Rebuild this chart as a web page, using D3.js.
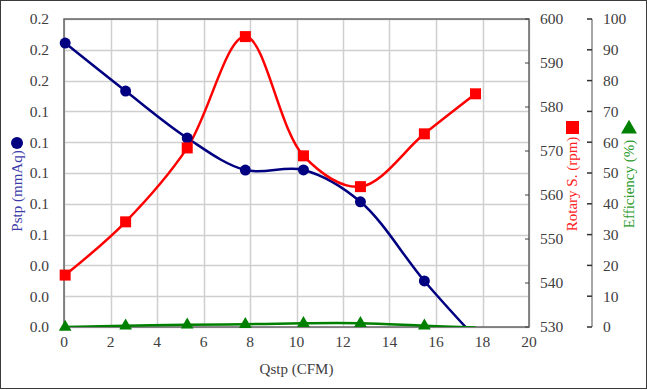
<!DOCTYPE html>
<html>
<head>
<meta charset="utf-8">
<script src="https://cdn.jsdelivr.net/npm/d3@7"></script>
<style>
  body { margin: 0; background: #fff; }
  svg { display: block; }
  svg text { font-family: "Liberation Serif", "Times New Roman", "DejaVu Serif", serif; }
</style>
</head>
<body>
<div id="chart"></div>
<script>
// Qstp (CFM) of each measured point
const qstp = [0.05, 2.65, 5.3, 7.8, 10.3, 12.75, 15.5, 17.7];
const pstp = [0.1844, 0.1532, 0.1227, 0.1019, 0.102, 0.0813, 0.0299, -0.007];
const rotary = [541.8, 553.9, 570.7, 596.0, 568.9, 561.9, 573.9, 583.0];
const efficiency = [0.0, 0.4, 0.7, 0.9, 1.2, 1.2, 0.4, -0.2];

const xTicks = d3.range(0, 21, 2);
const pTicks = d3.range(0, 0.2001, 0.02);
const rTicks = d3.range(530, 601, 10);
const eTicks = d3.range(0, 101, 10);

const width = 647, height = 390;
const plotLeft = 64, plotRight = 529, plotTop = 19, plotBottom = 327;

const svg = d3.select('#chart').append('svg')
  .attr('width', width)
  .attr('height', height);

svg.append('rect')
  .attr('x', 0.5).attr('y', 0.5)
  .attr('width', width - 1).attr('height', height - 2)
  .attr('fill', '#fff')
  .attr('stroke', '#3a3a3a');

const x = d3.scaleLinear().domain([0, 20]).range([plotLeft, plotRight]);
const yP = d3.scaleLinear().domain([0, 0.2]).range([plotBottom, plotTop]);
const yR = d3.scaleLinear().domain([530, 600]).range([plotBottom, plotTop]);
const yE = d3.scaleLinear().domain([0, 100]).range([plotBottom, plotTop]);

const tickColor = '#404040';
const fontSize = 15.5;
const titleSize = 15;

// gridlines
svg.append('g')
  .selectAll('line')
  .data(pTicks)
  .join('line')
  .attr('x1', plotLeft).attr('x2', plotRight)
  .attr('y1', d => Math.round(yP(d)) + 0.5)
  .attr('y2', d => Math.round(yP(d)) + 0.5)
  .attr('stroke', '#cfcfcf')
  .attr('stroke-width', 1.5);

svg.append('g')
  .selectAll('line')
  .data(xTicks)
  .join('line')
  .attr('y1', plotTop).attr('y2', plotBottom)
  .attr('x1', d => Math.round(x(d)) + 0.5)
  .attr('x2', d => Math.round(x(d)) + 0.5)
  .attr('stroke', '#cfcfcf')
  .attr('stroke-width', 1.5);

// plot frame
svg.append('rect')
  .attr('x', plotLeft).attr('y', plotTop)
  .attr('width', plotRight - plotLeft).attr('height', plotBottom - plotTop)
  .attr('fill', 'none')
  .attr('stroke', '#666')
  .attr('stroke-width', 1.5);

// left axis labels
svg.append('g')
  .selectAll('text')
  .data(pTicks)
  .join('text')
  .attr('x', plotLeft - 15)
  .attr('y', d => yP(d))
  .attr('dy', '0.35em')
  .attr('text-anchor', 'end')
  .attr('font-size', fontSize)
  .attr('fill', tickColor)
  .text(d => d3.format('.1f')(d));

// x axis labels
svg.append('g')
  .selectAll('text')
  .data(xTicks)
  .join('text')
  .attr('x', d => x(d))
  .attr('y', plotBottom + 20)
  .attr('text-anchor', 'middle')
  .attr('font-size', fontSize)
  .attr('fill', tickColor)
  .text(d => d);

// rotary axis: inner ticks + labels
const rAxis = svg.append('g');
rAxis.selectAll('line')
  .data(rTicks)
  .join('line')
  .attr('x1', plotRight - 4).attr('x2', plotRight)
  .attr('y1', d => yR(d)).attr('y2', d => yR(d))
  .attr('stroke', '#404040');
rAxis.selectAll('text')
  .data(rTicks)
  .join('text')
  .attr('x', plotRight + 11)
  .attr('y', d => yR(d))
  .attr('dy', '0.35em')
  .attr('font-size', fontSize)
  .attr('fill', tickColor)
  .text(d => d);

// efficiency axis
const eX = 592;
const eAxis = svg.append('g');
eAxis.append('line')
  .attr('x1', eX).attr('x2', eX)
  .attr('y1', plotTop).attr('y2', plotBottom)
  .attr('stroke', '#8a8a8a')
  .attr('stroke-width', 1.5);
eAxis.selectAll('line.t')
  .data(eTicks)
  .join('line')
  .attr('class', 't')
  .attr('x1', eX - 5).attr('x2', eX)
  .attr('y1', d => yE(d)).attr('y2', d => yE(d))
  .attr('stroke', '#303030')
  .attr('stroke-width', 1.5);
eAxis.selectAll('text')
  .data(eTicks)
  .join('text')
  .attr('x', eX + 11)
  .attr('y', d => yE(d))
  .attr('dy', '0.35em')
  .attr('font-size', fontSize)
  .attr('fill', tickColor)
  .text(d => d);

// axis titles
svg.append('text')
  .attr('x', (plotLeft + plotRight) / 2)
  .attr('y', 374)
  .attr('text-anchor', 'middle')
  .attr('font-size', titleSize)
  .attr('fill', tickColor)
  .text('Qstp (CFM)');

function yTitle(cx, cy, label, color) {
  svg.append('text')
    .attr('transform', `translate(${cx},${cy}) rotate(-90)`)
    .attr('text-anchor', 'middle')
    .attr('dy', '0.35em')
    .attr('font-size', titleSize)
    .attr('fill', color)
    .text(label);
}
yTitle(17, 191, 'Pstp (mmAq)', '#3b3ba8');
yTitle(572, 184, 'Rotary S. (rpm)', '#ff2020');
yTitle(629, 184, 'Efficiency (%)', '#2a9a2a');

// legend markers beside titles
svg.append('circle').attr('cx', 17).attr('cy', 143).attr('r', 6).attr('fill', '#000080');
svg.append('rect').attr('x', 566).attr('y', 121).attr('width', 13).attr('height', 13).attr('fill', '#ff0000');
svg.append('path')
  .attr('d', d3.symbol(d3.symbolTriangle, 110)())
  .attr('transform', 'translate(629,129)')
  .attr('fill', '#008000');

// series
svg.append('clipPath').attr('id', 'plotClip')
  .append('rect')
  .attr('x', plotLeft).attr('y', plotTop - 10)
  .attr('width', plotRight - plotLeft).attr('height', plotBottom - plotTop + 10);

const plot = svg.append('g').attr('clip-path', 'url(#plotClip)');

function series(values, yScale, color) {
  const pts = qstp.map((q, i) => [q, values[i]]);
  plot.append('path')
    .datum(pts)
    .attr('fill', 'none')
    .attr('stroke', color)
    .attr('stroke-width', 2.5)
    .attr('d', d3.line()
      .x(d => x(d[0]))
      .y(d => yScale(d[1]))
      .curve(d3.curveCatmullRom.alpha(0.5)));
  return pts.filter(d => d[1] >= yScale.domain()[0]);
}

const pPts = series(pstp, yP, '#000080');
const rPts = series(rotary, yR, '#ff0000');
const ePts = series(efficiency, yE, '#008000');

svg.append('g')
  .selectAll('circle')
  .data(pPts)
  .join('circle')
  .attr('cx', d => x(d[0]))
  .attr('cy', d => yP(d[1]))
  .attr('r', 5.5)
  .attr('fill', '#000080');

svg.append('g')
  .selectAll('rect')
  .data(rPts)
  .join('rect')
  .attr('x', d => x(d[0]) - 5.5)
  .attr('y', d => yR(d[1]) - 5.5)
  .attr('width', 11)
  .attr('height', 11)
  .attr('fill', '#ff0000');

svg.append('g')
  .selectAll('path')
  .data(ePts)
  .join('path')
  .attr('d', d3.symbol(d3.symbolTriangle, 70)())
  .attr('transform', d => `translate(${x(d[0])},${yE(d[1])})`)
  .attr('fill', '#008000');
</script>
</body>
</html>
